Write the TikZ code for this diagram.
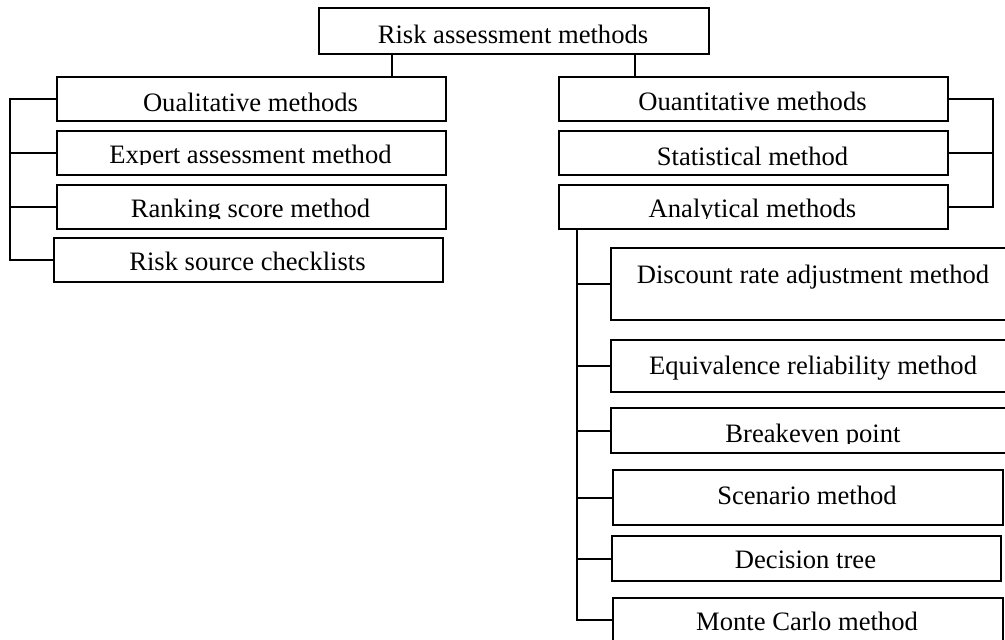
\documentclass[tikz,border=0pt]{standalone}
\usepackage{fontspec}
\setmainfont{Liberation Serif}
\usepackage{tikz}

\begin{document}
\begin{tikzpicture}[x=0.5pt,y=-0.5pt,line width=1pt,
  box/.style 2 args={draw,anchor=north west,inner sep=0pt,minimum width=#1*0.5pt,minimum height=#2*0.5pt},
  lbl/.style={anchor=base,inner sep=0pt,font=\fontsize{13.3}{16}\selectfont}]
  \clip (0,0) rectangle (1005,639);
  % ---------- boxes ----------
  \node[box={390}{46}] (top) at (318,7) {};
  \node[box={389}{44}] (qual) at (56,76) {};
  \node[box={389}{44}] (exp) at (56,130) {};
  \node[box={389}{44}] (rank) at (56,184) {};
  \node[box={389}{44}] (risk) at (53,237) {};
  \node[box={389}{44}] (quant) at (558,76) {};
  \node[box={389}{44}] (stat) at (558,130) {};
  \node[box={389}{44}] (anal) at (558,184) {};
  \node[box={406}{72}] (disc) at (610,247) {};
  \node[box={406}{52}] (equiv) at (610,339) {};
  \node[box={406}{45}] (brk) at (610,407) {};
  \node[box={390}{55}] (scen) at (612,469) {};
  \node[box={389}{45}] (dec) at (611,535) {};
  \node[box={390}{44}] (monte) at (612,597) {};
  % ---------- labels ----------
  \node[lbl] (top-t) at (513,43) {Risk assessment methods};
  \node[lbl] (qual-t) at (250.5,111) {Oualitative methods};
  \node[lbl] (risk-t) at (247.5,270) {Risk source checklists};
  \node[lbl] (quant-t) at (752.5,110) {Ouantitative methods};
  \node[lbl] (stat-t) at (752.5,165) {Statistical method};
  \node[lbl] (disc-t) at (813,283) {Discount rate adjustment method};
  \node[lbl] (equiv-t) at (813,374) {Equivalence reliability method};
  \node[lbl] (scen-t) at (807,504) {Scenario method};
  \node[lbl] (dec-t) at (805.5,568) {Decision tree};
  \node[lbl] (monte-t) at (807,630) {Monte Carlo method};
  % labels cut off at the bottom
  \begin{scope}
    \clip (56,130) rectangle (445,164);
    \node[lbl] (exp-t) at (250.5,163) {Expert assessment method};
  \end{scope}
  \begin{scope}
    \clip (56,184) rectangle (445,218);
    \node[lbl] (rank-t) at (250.5,217) {Ranking score method};
  \end{scope}
  \begin{scope}
    \clip (558,184) rectangle (947,218);
    \node[lbl] (anal-t) at (752.5,217) {Analytical methods};
  \end{scope}
  \begin{scope}
    \clip (610,407) rectangle (1005,443);
    \node[lbl] (brk-t) at (813,442) {Breakeven point};
  \end{scope}
  % ---------- connectors ----------
  \draw (top.south west) ++(74,0) coordinate (tl) -- (tl |- qual.north);
  \draw (top.south west) ++(317,0) coordinate (tr) -- (tr |- quant.north);
  \coordinate (lbar) at (10,0);
  \draw (qual.west) -| (lbar |- risk.west) -- (risk.west);
  \foreach \n in {exp,rank} \draw (\n.west) -- (lbar |- \n.west);
  \coordinate (rbar) at (993,0);
  \draw (quant.east) -| (rbar |- anal.east) -- (anal.east);
  \draw (stat.east) -- (rbar |- stat.east);
  \draw (anal.south west) ++(19,0) coordinate (ad) -- (ad |- monte.west) -- (monte.west);
  \foreach \n in {disc,equiv,brk,scen,dec} \draw (\n.west) -- (ad |- \n.west);
\end{tikzpicture}
\end{document}
